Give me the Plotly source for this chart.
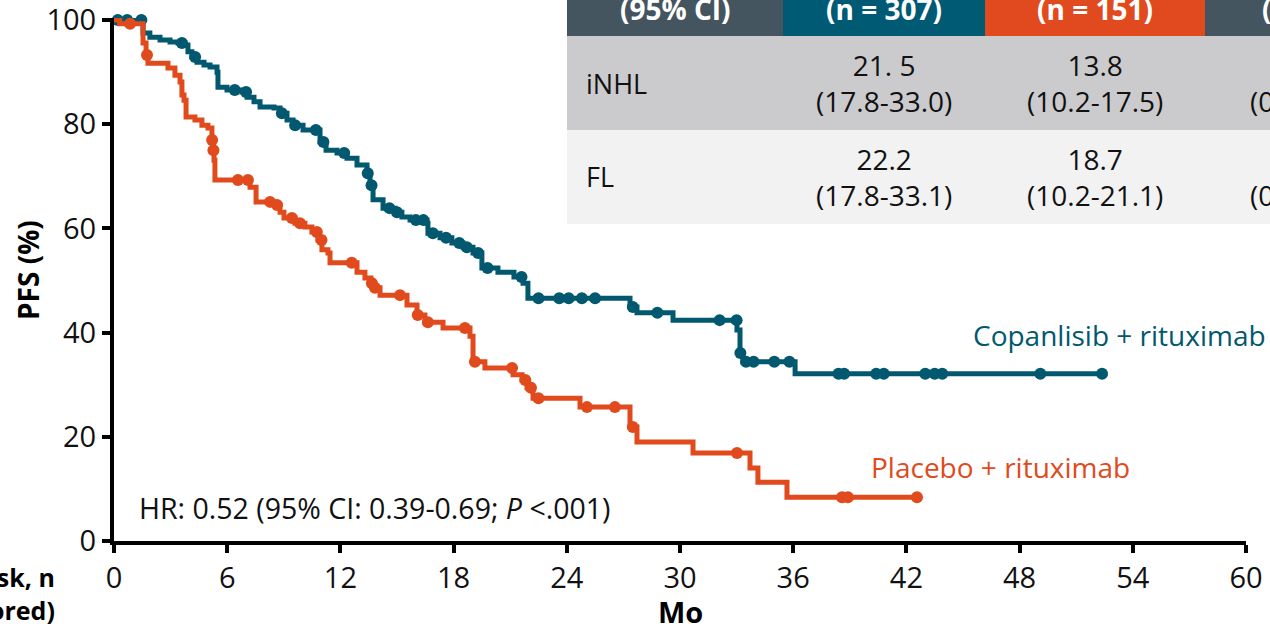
import bisect
import plotly.graph_objects as go

# ---------------- Kaplan-Meier data (PFS, %) ----------------
# Copanlisib + rituximab: event times (months) and survival after each step
cop_t = [0, 1.54, 1.9, 2.44, 2.97, 3.39, 3.76, 3.92, 4.13, 4.4, 4.77, 5.09, 5.46,
         5.51, 5.99, 6.78, 7.05, 7.42, 7.74, 8.48, 8.8, 9.17, 9.49, 10.02, 10.92,
         11.24, 11.82, 12.35, 12.88, 13.41, 13.57, 13.73, 14.26, 14.89, 15.26,
         15.69, 16.59, 16.64, 17.28, 17.91, 18.5, 19.03, 19.5, 20.35, 21.2, 21.68,
         21.94, 27.35, 27.72, 29.63, 33.02, 33.18, 33.34, 36.1]
cop_s = [100, 97.5, 96.7, 96.2, 95.8, 95.6, 95.2, 93.9, 92.9, 91.9, 91.4, 91.0, 90.0,
         87.1, 86.6, 86.2, 85.2, 84.3, 83.3, 83.1, 82.1, 80.8, 79.8, 78.9, 76.6,
         75.0, 74.5, 73.5, 72.2, 70.6, 68.3, 65.5, 63.9, 63.1, 62.2,
         61.6, 61.0, 59.1, 58.2, 57.2, 56.4, 55.3, 52.4, 51.6, 50.7, 49.5,
         46.6, 44.9, 43.8, 42.4, 40.5, 36.1, 34.4, 32.1]
cop_end = 52.37
cop_censor = [0.2, 0.7, 1.45, 3.6, 4.3, 6.4, 7.0, 8.9, 9.6, 10.7, 11.1, 12.2, 13.45,
              13.65, 14.6, 15.0, 16.0, 16.4, 16.9, 17.6, 18.3, 18.7, 19.3, 19.8, 21.6,
              22.5, 23.6, 24.1, 24.8, 25.5, 27.5, 28.8, 32.1, 33.0, 33.2, 33.5, 33.9,
              35.0, 35.8, 38.4, 38.7, 40.4, 40.8, 43.0, 43.5, 43.9, 49.1, 52.37]

# Placebo + rituximab
plc_t = [0, 0.3, 1.54, 1.7, 1.8, 2.86, 3.23, 3.5, 3.6, 3.71, 3.82, 4.29, 4.66, 4.98,
         5.19, 5.25, 5.3, 5.35, 7.21, 7.53, 8.53, 8.8, 9.01, 9.59, 10.12, 10.49,
         10.81, 11.02, 11.34, 11.45, 12.88, 13.3, 13.62, 13.78, 14.1, 15.53, 16.06,
         16.48, 17.44, 18.87, 19.03, 19.66, 21.15, 21.63, 21.89, 22.21, 24.7, 27.35,
         27.72, 30.69, 33.71, 34.13, 35.67]
plc_s = [100, 99.3, 95.6, 93.3, 91.7, 90.8, 89.4, 88.1, 85.6, 84.6, 81.4, 80.8, 79.8, 79.3,
         77.0, 75.0, 73.1, 69.3, 67.9, 65.1, 64.5, 63.1, 62.0, 61.0, 60.3, 59.3,
         57.8, 55.9, 55.3, 53.4, 51.6, 50.5, 49.5, 48.6, 47.2, 45.3, 43.4,
         42.0, 40.9, 39.3, 34.4, 33.2, 31.9, 30.9, 29.4, 27.4, 25.7, 21.9,
         19.0, 16.9, 14.0, 11.3, 8.4]
plc_end = 42.56
plc_censor = [0.85, 1.75, 5.2, 5.27, 6.57, 7.1, 8.27, 8.64, 9.43, 9.86, 10.75, 11.0,
              12.6, 13.67, 13.83, 15.16, 16.1, 16.64, 18.6, 19.13, 21.1, 21.8, 22.1,
              22.5, 25.07, 26.55, 27.5, 33.02, 38.59, 38.9, 42.56]

x_ticks = [0, 6, 12, 18, 24, 30, 36, 42, 48, 54, 60]
y_ticks = [0, 20, 40, 60, 80, 100]

# ---------------- summary table ----------------
tbl_header = ["(95% CI)", "(n = 307)", "(n = 151)", "(95% CI)"]
tbl_groups = ["iNHL", "FL"]
tbl_cop = ["21. 5<br>(17.8-33.0)", "22.2<br>(17.8-33.1)"]
tbl_plc = ["13.8<br>(10.2-17.5)", "18.7<br>(10.2-21.1)"]
tbl_hr = ["0.52<br>(0.39-0.69)", "0.52<br>(0.35-0.78)"]

TEAL = "#01586f"
ORANGE = "#e14a1d"
SLATE = "#45555f"
FONT = "Open Sans"
INK = "#111111"

W, H = 1270, 626
ML, MR, MT, MB = 114, 24, 18, 85


def px_x(px):
    return (px - ML) / (W - ML - MR)


def px_y(py):
    return (H - MB - py) / (H - MB - MT)


def surv_at(times, surv, t):
    return surv[bisect.bisect_right(times, t) - 1]


def label(px, py, text, size, color, xanchor="center", yanchor="middle", **kw):
    return dict(xref="paper", yref="paper", x=px_x(px), y=px_y(py),
                xanchor=xanchor, yanchor=yanchor, text=text, showarrow=False,
                font=dict(family=FONT, size=size, color=color), **kw)


fig = go.Figure()

for t, s, end, cens, col in [(cop_t, cop_s, cop_end, cop_censor, TEAL),
                             (plc_t, plc_s, plc_end, plc_censor, ORANGE)]:
    fig.add_trace(go.Scatter(
        x=t + [end], y=s + [s[-1]], mode="lines", line_shape="hv",
        line=dict(color=col, width=5), hoverinfo="skip", showlegend=False))
    fig.add_trace(go.Scatter(
        x=cens, y=[surv_at(t, s, c) for c in cens], mode="markers",
        marker=dict(color=col, size=12, symbol="circle"), cliponaxis=False,
        showlegend=False))

shapes = []
annotations = []

# table cells
col_px = [567, 783, 985, 1205, 1430]
row_px = [-80, 36, 130, 224]
hdr_fill = [SLATE, "#005a74", "#e1491e", SLATE]
row_fill = ["#cbcbcd", "#f2f2f2"]
for j in range(4):
    shapes.append(dict(type="rect", xref="paper", yref="paper", layer="above",
                       x0=px_x(col_px[j]), x1=px_x(col_px[j + 1]),
                       y0=px_y(row_px[1]), y1=px_y(row_px[0]),
                       fillcolor=hdr_fill[j], line_width=0))
for i in range(2):
    shapes.append(dict(type="rect", xref="paper", yref="paper", layer="above",
                       x0=px_x(col_px[0]), x1=px_x(col_px[-1]),
                       y0=px_y(row_px[i + 2]), y1=px_y(row_px[i + 1]),
                       fillcolor=row_fill[i], line_width=0))

for j, txt in enumerate(tbl_header):
    annotations.append(label((col_px[j] + col_px[j + 1]) / 2, 30,
                             "<b>" + txt + "</b>", 28, "white", yanchor="bottom"))
for i in range(2):
    yc = (row_px[i + 1] + row_px[i + 2]) / 2
    annotations.append(label(584, yc, tbl_groups[i], 27, INK, xanchor="left"))
    for j, vals in [(1, tbl_cop), (2, tbl_plc), (3, tbl_hr)]:
        annotations.append(label((col_px[j] + col_px[j + 1]) / 2, yc, vals[i],
                                 28, INK))

# curve labels, hazard ratio, axis titles
annotations += [
    label(1268, 335, "Copanlisib + rituximab", 28, TEAL, xanchor="right"),
    label(1132, 467, "Placebo + rituximab", 28, ORANGE, xanchor="right"),
    label(137, 508, "HR: 0.52 (95% CI: 0.39-0.69; <i>P</i> <.001)", 28.5, INK,
          xanchor="left"),
    label(57, 593, "<b>At risk, n<br>(censored)</b>", 25, "black",
          xanchor="right", align="right"),
    label(680, 611, "<b>Mo</b>", 29, "black"),
    label(28, 270, "<b>PFS (%)</b>", 28, "black", textangle=-90),
]

axis_style = dict(ticks="outside", ticklen=8, tickwidth=4, tickcolor="black",
                  showline=True, linewidth=4, linecolor="black", showgrid=False,
                  zeroline=False, automargin=False, ticklabeloverflow="allow",
                  tickfont=dict(family=FONT, size=29, color=INK))

fig.update_layout(
    width=W, height=H, margin=dict(l=ML, r=MR, t=MT, b=MB, autoexpand=False),
    paper_bgcolor="white", plot_bgcolor="white",
    font=dict(family=FONT, color="black"),
    shapes=shapes, annotations=annotations, showlegend=False,
    xaxis=dict(range=[0, 60], tickvals=x_ticks, **axis_style),
    yaxis=dict(range=[0, 100.4], tickvals=y_ticks, **axis_style),
)

fig.write_html("out.html")
